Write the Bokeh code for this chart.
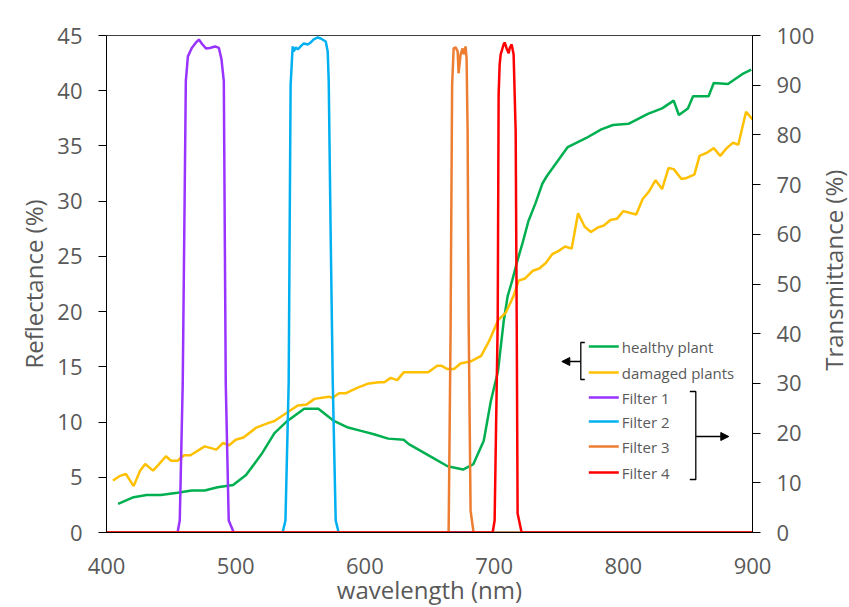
import math
from bokeh.plotting import figure
from bokeh.layouts import row
from bokeh.models import Range1d, LinearAxis, FixedTicker, Arrow, NormalHead
from bokeh.core.properties import value
from bokeh.embed import file_html
from bokeh.resources import INLINE

# ---------------- data ----------------
healthy_wl = [409, 421, 431, 442, 455, 466, 476, 486, 498, 508, 520, 530, 540, 553, 564, 576,
              587, 597, 607, 618, 630, 634, 652, 664, 676, 684, 692, 697.5, 703, 707.5, 710.5,
              714, 718, 722, 726.6, 732, 737.4, 741, 757, 771, 783, 792, 804, 819, 830, 839,
              843, 850, 854, 866, 870, 881, 892, 899]
healthy_refl = [2.6, 3.2, 3.4, 3.4, 3.6, 3.8, 3.8, 4.1, 4.3, 5.2, 7.1, 9.0, 10.1, 11.2, 11.2, 10.1,
                9.5, 9.2, 8.9, 8.5, 8.4, 8.0, 6.8, 6.0, 5.7, 6.2, 8.3, 11.9, 14.6, 19.2, 21.4,
                22.8, 24.6, 26.2, 28.2, 29.8, 31.6, 32.3, 34.9, 35.7, 36.5, 36.9, 37.0, 37.9, 38.4, 39.1,
                37.8, 38.4, 39.5, 39.5, 40.7, 40.6, 41.5, 41.9]

damaged_wl = [405, 410, 415, 421, 426, 430, 436, 440, 446, 450, 455, 460, 465, 476, 485, 490,
              495, 500, 506, 516, 525, 530, 539, 548, 555, 561, 572, 575, 580, 585, 594, 603,
              611, 615, 620, 625, 630, 649, 656, 659, 664, 669, 674, 682, 690, 696, 703, 709,
              715, 719, 724, 730, 735, 740, 745, 750, 755, 760, 765, 770, 775, 780, 785, 790,
              795, 800, 810, 815, 820, 825, 830, 835, 839, 845, 849, 855, 859, 865, 870, 875,
              880, 885, 889, 895, 900]
damaged_refl = [4.7, 5.1, 5.3, 4.2, 5.6, 6.2, 5.6, 6.1, 6.9, 6.5, 6.5, 7.0, 7.0, 7.8, 7.5, 8.1,
                7.9, 8.4, 8.6, 9.5, 9.9, 10.1, 10.8, 11.5, 11.6, 12.1, 12.3, 12.2, 12.6, 12.6, 13.1, 13.5,
                13.6, 13.6, 14.0, 13.8, 14.5, 14.5, 15.1, 15.1, 14.8, 14.8, 15.3, 15.5, 16.0, 17.3, 19.2, 19.9,
                21.4, 22.8, 23.0, 23.7, 23.9, 24.4, 25.2, 25.5, 25.9, 25.7, 28.9, 27.7, 27.2, 27.6, 27.8, 28.3,
                28.4, 29.1, 28.8, 30.2, 30.9, 31.9, 31.1, 33.0, 32.9, 32.0, 32.1, 32.4, 34.1, 34.4, 34.8, 34.1,
                34.8, 35.3, 35.1, 38.1, 37.4]

f1_wl = [400, 455, 456.7, 459, 461.4, 463, 466, 469, 471.5, 474, 477, 480, 484, 487, 489, 490.8,
         492.3, 494.6, 498.5, 900]
f1_t = [0, 0, 2.4, 30, 90.8, 95.8, 97.5, 98.5, 99.2, 98.3, 97.4, 97.5, 97.8, 97.5, 95.2, 90.8,
        30, 2.4, 0, 0]

f2_wl = [400, 536.3, 538.5, 541, 542.5, 544.1, 544.9, 546.5, 548, 548.8, 551, 552.7, 555.8, 558.1,
         560.4, 563.5, 565.8, 569.7, 571.2, 572, 573.5, 575.1, 577.4, 579.7, 900]
f2_t = [0, 0, 2.4, 30, 90, 97.8, 96.8, 97.6, 97.2, 97.4, 98.0, 98.4, 98.2, 98.6,
        99.2, 99.6, 99.4, 98.8, 96.8, 90.8, 60, 30.5, 2.4, 0, 0]

f3_wl = [400, 664.8, 666.3, 667.5, 668.7, 670.2, 671.8, 672.5, 674.1, 675.6, 676.4, 677.9, 678.7,
         679.5, 680.3, 681.8, 684.1, 900]
f3_t = [0, 0, 40, 90, 97.4, 97.6, 96.8, 92.4, 96.2, 97.4, 96.2, 97.8, 95.4,
        80.7, 42.6, 4.4, 0, 0]

f4_wl = [400, 698.9, 700.4, 702.8, 703.5, 704.3, 705.1, 707.4, 708.2, 709.7, 711.3, 712.0, 713.6,
         715.1, 716.7, 717.5, 718.2, 721.3, 900]
f4_t = [0, 0, 2.4, 42.6, 88, 94.2, 96.2, 98.2, 98.6, 97.4, 96.4, 97.4, 98.2,
        96.2, 80.7, 42.6, 3.8, 0, 0]

x_ticks = [400, 500, 600, 700, 800, 900]
refl_ticks = [0, 5, 10, 15, 20, 25, 30, 35, 40, 45]
trans_ticks = [0, 10, 20, 30, 40, 50, 60, 70, 80, 90, 100]

series_names = ["healthy plant", "damaged plants", "Filter 1", "Filter 2", "Filter 3", "Filter 4"]
series_colors = ["#00B050", "#FFC000", "#9933FF", "#00B0F0", "#ED7D31", "#FF0000"]
right_title = "Transmittance (%)"

# ---------------- figure ----------------
FW, FH = 646, 497
MB_LEFT, MB_TOP, MB_RIGHT = 106, 35, 58
p = figure(frame_width=FW, frame_height=FH,
           x_range=Range1d(400, 900), y_range=Range1d(0, 45),
           output_backend="svg", toolbar_location=None,
           min_border_left=MB_LEFT, min_border_top=MB_TOP, min_border_right=MB_RIGHT, min_border_bottom=5,
           background_fill_color="white", border_fill_color="white")
p.extra_y_ranges = {"T": Range1d(0, 100)}
p.xgrid.visible = False
p.ygrid.visible = False
p.outline_line_color = "#404040"
p.outline_line_width = 1

right_axis = LinearAxis(y_range_name="T")
p.add_layout(right_axis, "right")

FONT = "Open Sans"
GRAY = "#595959"
TITLE_SIZE = "24px"
TICK_SIZE = "22px"

def style_axis(ax, ticks, label):
    ax.ticker = FixedTicker(ticks=ticks)
    ax.axis_label = label
    ax.axis_label_text_font = FONT
    ax.axis_label_text_font_style = "normal"
    ax.axis_label_text_font_size = TITLE_SIZE
    ax.axis_label_text_color = GRAY
    ax.major_label_text_font = FONT
    ax.major_label_text_font_size = TICK_SIZE
    ax.major_label_text_color = GRAY
    ax.axis_line_color = "black"
    ax.axis_line_width = 1
    ax.major_tick_line_color = "black"
    ax.minor_tick_line_color = None
    ax.major_tick_in = 0

style_axis(p.xaxis[0], x_ticks, "wavelength (nm)")
p.xaxis[0].major_tick_out = 0
p.xaxis[0].major_label_standoff = 25
p.xaxis[0].axis_label_standoff = -4

style_axis(p.yaxis[0], refl_ticks, "Reflectance (%)")
p.yaxis[0].major_tick_out = 8
p.yaxis[0].major_label_standoff = 16
p.yaxis[0].axis_label_standoff = 4

style_axis(right_axis, trans_ticks, None)
right_axis.major_tick_out = 8
right_axis.major_label_standoff = 16

LW = 2.5
p.line(healthy_wl, healthy_refl, line_color=series_colors[0], line_width=LW)
p.line(damaged_wl, damaged_refl, line_color=series_colors[1], line_width=LW)
for wl, t, c in [(f1_wl, f1_t, series_colors[2]), (f2_wl, f2_t, series_colors[3]),
                 (f3_wl, f3_t, series_colors[4]), (f4_wl, f4_t, series_colors[5])]:
    p.line(wl, t, line_color=c, line_width=LW, y_range_name="T")

# ---------------- layout helpers (pixel offsets of the frame -> data) ----------------
X0, X1, Y0, Y1 = 400.0, 900.0, 0.0, 45.0
frame_left, frame_top = 105.7, 35.0
def px_x(px):
    return X0 + (X1 - X0) * (px - frame_left) / FW
def px_y(py):
    return Y1 - (Y1 - Y0) * (py - frame_top) / FH

# ---------------- custom legend ----------------
row_py = [346, 372, 397, 421, 446, 472]
sample_x0, sample_x1, text_x = 588, 618, 621
for name, col, ry in zip(series_names, series_colors, row_py):
    yy = px_y(ry)
    p.line([px_x(sample_x0), px_x(sample_x1)], [yy, yy], line_color=col, line_width=2.5)
    p.text(x=[px_x(text_x)], y=[yy], text=[name],
           text_font=value(FONT), text_font_size="15px", text_color=GRAY,
           text_baseline="middle", text_align="left")

def bracket(x, tab, top, bot, arrow_y, arrow_end):
    p.line([px_x(tab), px_x(x), px_x(x), px_x(tab)],
           [px_y(top), px_y(top), px_y(bot), px_y(bot)],
           line_color="black", line_width=1.3)
    p.add_layout(Arrow(end=NormalHead(size=8, fill_color="black", line_color="black"),
                       x_start=px_x(x), y_start=px_y(arrow_y),
                       x_end=px_x(arrow_end), y_end=px_y(arrow_y),
                       line_color="black", line_width=1.3))

bracket(580, 584, 342, 379, 361, 561)
bracket(695, 689, 391, 479, 436, 728)

# ---------------- right axis title (reads bottom-to-top), in a narrow side panel ----------------
QW, QH = 34, 600
q = figure(width=QW, height=QH, x_range=Range1d(0, QW), y_range=Range1d(0, QH),
           output_backend="svg", toolbar_location=None,
           x_axis_location=None, y_axis_location=None,
           min_border_left=0, min_border_right=0, min_border_top=0, min_border_bottom=0,
           background_fill_color="white", border_fill_color="white")
q.xgrid.visible = False
q.ygrid.visible = False
q.outline_line_color = None
q.text(x=[16], y=[QH - 288], text=[right_title], angle=math.pi / 2,
       text_font=value(FONT), text_font_size=TITLE_SIZE, text_color=GRAY,
       text_align="center", text_baseline="middle")

layout = row(p, q, spacing=0)
open("out.html", "w").write(file_html(layout, INLINE))
